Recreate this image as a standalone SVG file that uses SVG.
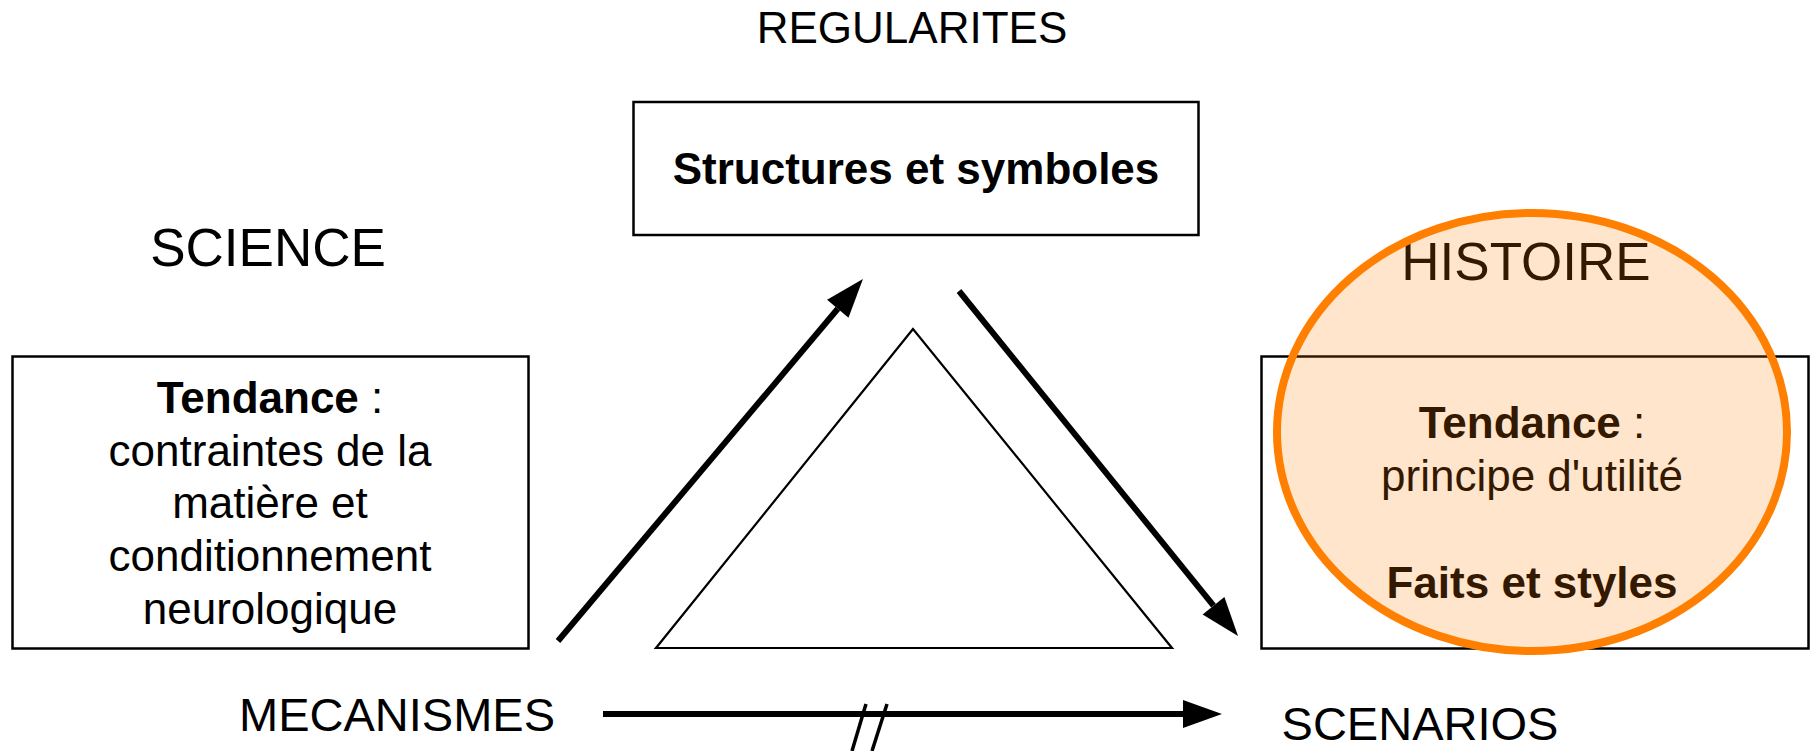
<svg xmlns="http://www.w3.org/2000/svg" width="1814" height="751" viewBox="0 0 1814 751">
<style>
text{font-family:"Liberation Sans",Arial,Helvetica,sans-serif;fill:#000;text-anchor:middle}
.lbl{font-size:44px}
.big{font-size:53px}
.bot{font-size:47px}
.bx{font-size:44px}
.b{font-weight:bold}
.box{fill:#fff;stroke:#000;stroke-width:2.5}
.arr{stroke:#000;stroke-width:6;fill:none}
</style>
<defs>
<marker id="ah" markerUnits="userSpaceOnUse" markerWidth="40" markerHeight="30" refX="0" refY="14" orient="auto" overflow="visible">
<path d="M0,0 L39,14 L0,28 Z" fill="#000"/>
</marker>
</defs>
<rect width="1814" height="751" fill="#fff"/>
<g id="label-regularites"><text class="lbl" x="912" y="43">REGULARITES</text></g>
<g id="label-science"><text class="big" x="268" y="266">SCIENCE</text></g>
<g id="label-mecanismes"><text class="bot" x="397" y="731">MECANISMES</text></g>
<g id="label-scenarios"><text class="bot" x="1420" y="740">SCENARIOS</text></g>
<g id="node-structures">
<rect class="box" x="633.5" y="102" width="565" height="133"/>
<text class="bx b" x="916" y="184">Structures et symboles</text>
</g>
<g id="node-science">
<rect class="box" x="12.5" y="356.5" width="516" height="292"/>
<text class="bx" x="270" y="413"><tspan class="b">Tendance</tspan> :</text>
<text class="bx" x="270" y="466">contraintes de la</text>
<text class="bx" x="270" y="518">matière et</text>
<text class="bx" x="270" y="571">conditionnement</text>
<text class="bx" x="270" y="624">neurologique</text>
</g>
<g id="node-triangle">
<polygon points="913,329 656,648 1172,648" fill="none" stroke="#000" stroke-width="2.2" stroke-linejoin="miter"/>
</g>
<g id="node-histoire">
<rect class="box" x="1261.5" y="356.5" width="547" height="292"/>
<text class="big" x="1526" y="280">HISTOIRE</text>
<text class="bx" x="1532" y="438"><tspan class="b">Tendance</tspan> :</text>
<text class="bx" x="1532" y="491">principe d'utilité</text>
<text class="bx b" x="1532" y="598">Faits et styles</text>
<ellipse cx="1532" cy="432" rx="255" ry="219" fill="#ff7f00" fill-opacity="0.2" stroke="#ff7f00" stroke-width="8"/>
</g>
<g id="connectors">
<line class="arr" x1="558" y1="641" x2="837.8" y2="308.8" marker-end="url(#ah)"/>
<line class="arr" x1="959" y1="291" x2="1213.5" y2="605.7" marker-end="url(#ah)"/>
<line class="arr" x1="603" y1="714" x2="1183" y2="714" marker-end="url(#ah)"/>
<line stroke="#000" stroke-width="3.5" x1="866" y1="704" x2="852" y2="751"/>
<line stroke="#000" stroke-width="3.5" x1="887" y1="704" x2="872" y2="751"/>
</g>
</svg>
